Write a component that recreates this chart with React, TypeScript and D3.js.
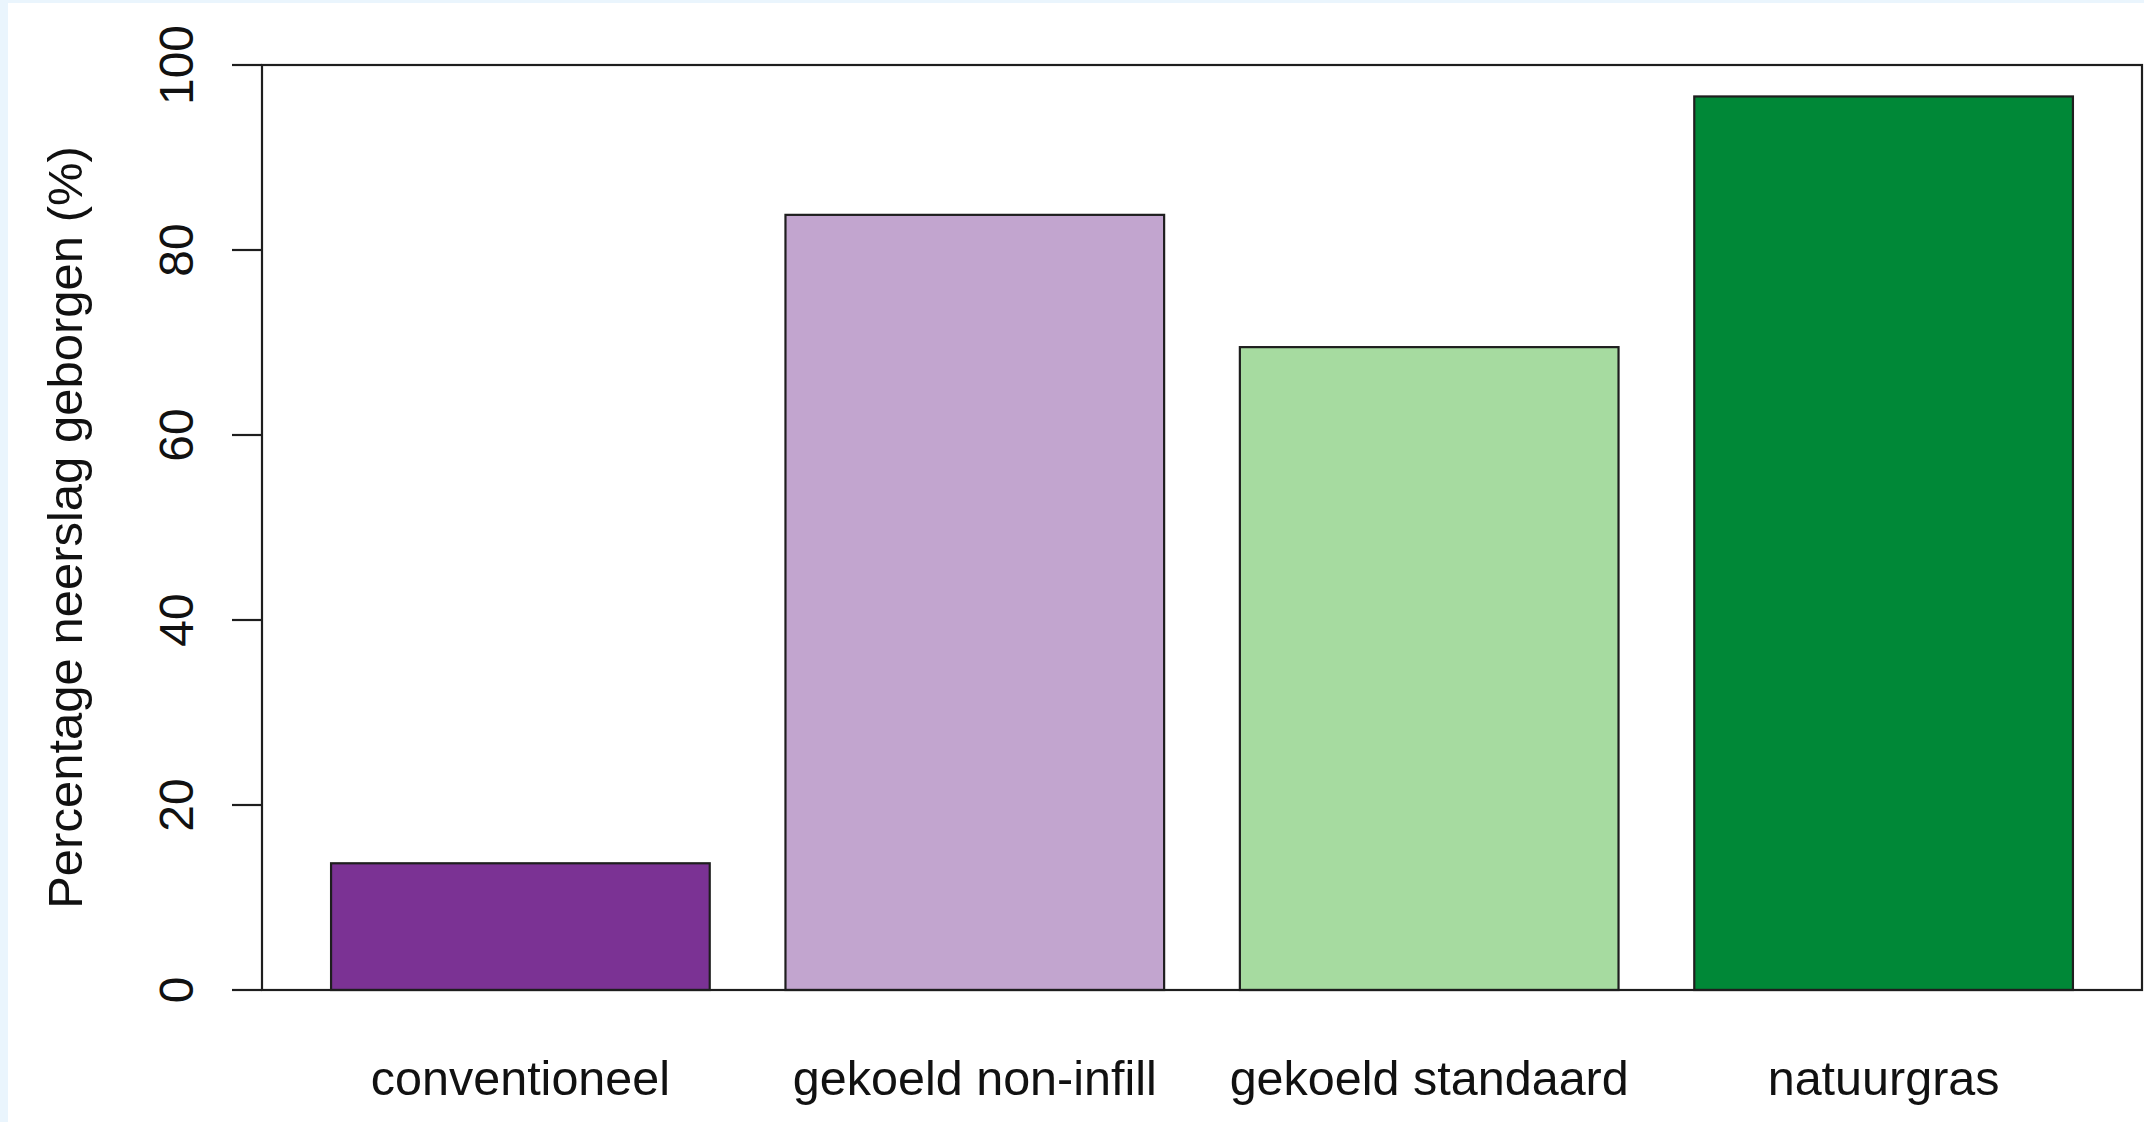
import * as d3 from 'd3';
import React from 'react';

// data
const categories = ['conventioneel', 'gekoeld non-infill', 'gekoeld standaard', 'natuurgras'];
const values = [13.7, 83.8, 69.5, 96.6];
const colors = ['#7B3294', '#C2A5CF', '#A6DBA0', '#008837'];
const yTicks = [0, 20, 40, 60, 80, 100];
const yTitle = 'Percentage neerslag geborgen (%)';

const W = 2144;
const H = 1122;
const font = '"Liberation Sans", Arial, Helvetica, sans-serif';

const App: React.FC = () => {
  // plot region
  const left = 262;
  const right = 2142;
  const top = 65;
  const bottom = 990;

  const x = d3.scaleBand<string>()
    .domain(categories)
    .range([left, right])
    .paddingInner(1 / 6)
    .paddingOuter(0.152);

  const y = d3.scaleLinear().domain([0, 100]).range([bottom, top]);

  const stroke = '#1e1e1e';

  return (
    <div style={{ position: 'absolute', left: 0, top: 0 }}>
      <svg width={W} height={H} style={{ display: 'block' }}>
        <rect x={0} y={0} width={W} height={H} fill="#EAF5FD" />
        <rect x={8} y={3} width={W - 8} height={H - 3} fill="#ffffff" />

        {/* bars */}
        {categories.map((c, i) => (
          <rect
            key={c}
            x={x(c)}
            y={y(values[i])}
            width={x.bandwidth()}
            height={y(0) - y(values[i])}
            fill={colors[i]}
            stroke={stroke}
            strokeWidth={2.2}
          />
        ))}

        {/* frame */}
        <rect x={left} y={top} width={right - left} height={bottom - top}
          fill="none" stroke={stroke} strokeWidth={2.2} />

        {/* y axis ticks and labels */}
        {yTicks.map(t => (
          <g key={t}>
            <line x1={left - 30} x2={left} y1={y(t)} y2={y(t)} stroke={stroke} strokeWidth={2.2} />
            <text
              transform={`translate(193,${y(t)}) rotate(-90)`}
              textAnchor="middle"
              fontFamily={font}
              fontSize={48}
              fill="#111"
            >
              {t}
            </text>
          </g>
        ))}

        {/* y title */}
        <text
          transform={`translate(82,${(top + bottom) / 2}) rotate(-90)`}
          textAnchor="middle"
          fontFamily={font}
          fontSize={49}
          fill="#111"
        >
          {yTitle}
        </text>

        {/* category labels */}
        {categories.map(c => (
          <text
            key={c}
            x={(x(c) ?? 0) + x.bandwidth() / 2}
            y={1095}
            textAnchor="middle"
            fontFamily={font}
            fontSize={48.5}
            fill="#111"
          >
            {c}
          </text>
        ))}
      </svg>
    </div>
  );
};

export default App;
